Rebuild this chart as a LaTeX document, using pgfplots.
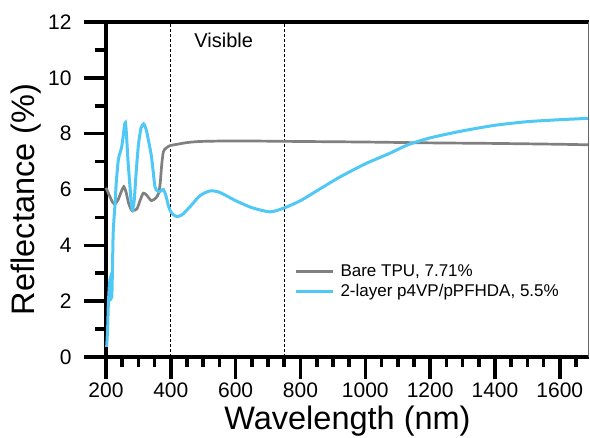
\documentclass[border=0pt]{standalone}
\usepackage{fontspec}
\setmainfont{Liberation Sans}
\usepackage{pgfplots}
\pgfplotsset{compat=1.18}

\definecolor{tpugray}{RGB}{128,128,128}
\definecolor{coatblue}{RGB}{80,200,245}

\begin{document}
\begin{tikzpicture}
\useasboundingbox (-106pt,-81pt) rectangle (484pt,357pt);
\begin{axis}[
    at={(0pt,0pt)}, anchor=south west,
    scale only axis,
    width=483pt, height=335pt,
    xmin=200, xmax=1690, ymin=0, ymax=12,
    clip=false,
    axis x line*=bottom, axis y line*=left,
    x axis line style={line width=3.6pt, black, -},
    y axis line style={line width=3.6pt, black, -},
    tick align=outside,
    major tick length=22pt, minor tick length=10.5pt,
    every tick/.style={line width=3.6pt, black},
    xtick={200,400,...,1600},
    minor xtick={250,300,350,450,500,550,650,700,750,850,900,950,1050,1100,1150,1250,1300,1350,1450,1500,1550,1650},
    ytick={0,2,...,12},
    minor ytick={1,3,...,11},
    ticklabel style={font=\fontsize{21}{24}\selectfont},
    yticklabel style={xshift=-9pt},
    /pgf/number format/assume math mode=true,
    /pgf/number format/1000 sep={},
    xlabel={Wavelength (nm)},
    ylabel={Reflectance (\%)},
    every axis x label/.style={at={([yshift=-73pt]axis description cs:0.5,0)}, anchor=base,
        font=\fontsize{32.5}{36}\selectfont},
    every axis y label/.style={at={([xshift=-71pt,yshift=-10pt]axis description cs:0,0.5)},
        rotate=90, anchor=base, font=\fontsize{32.5}{36}\selectfont},
    legend style={at={(axis cs:781,3.38)}, anchor=north west, draw=none, fill=none,
        font=\fontsize{17}{20}\selectfont, inner sep=0pt, row sep=2pt},
    legend cell align=left,
    legend image code/.code={\draw[#1] (0pt,0pt) -- (37pt,0pt); \path (41pt,0pt);},
]

\addplot[forget plot, black, line width=1.3pt, dash pattern=on 3pt off 2pt] coordinates {(400,0) (400,12)};
\addplot[forget plot, black, line width=1.3pt, dash pattern=on 3pt off 2pt] coordinates {(750,0) (750,12)};

\addplot[tpugray, line width=2.7pt, smooth, tension=0.4] coordinates {
    (200,6.06) (210,5.8) (220,5.55) (228,5.48) (238,5.65) (248,5.95) (255,6.1)
    (262,5.9) (270,5.5) (280,5.25) (295,5.3) (305,5.6) (315,5.87) (325,5.8)
    (340,5.6) (354,5.7) (362,5.85) (367,6.2) (372,6.9) (377,7.35) (385,7.48)
    (397,7.57) (420,7.62) (450,7.68) (490,7.72) (600,7.74) (800,7.72)
    (1000,7.7) (1200,7.67) (1400,7.65) (1600,7.62) (1690,7.6)
};
\addlegendentry{Bare TPU, 7.71\%}

\addplot[coatblue, line width=3pt, smooth, tension=0.4] coordinates {
    (202,0.36) (205,1.0) (207,1.8) (210,2.5) (213,2.8) (216,2.4) (218,2.15)
    (220,3.2) (222,4.4) (225,5.0) (228,5.5) (232,6.3) (238,7.06) (243,7.3)
    (248,7.5) (253,7.9) (257,8.3) (260,8.4) (263,8.0) (268,7.0) (274,6.1)
    (278,5.5) (282,5.27) (287,5.6) (293,6.6) (300,7.6) (308,8.2) (316,8.35)
    (324,8.15) (332,7.7) (340,7.2) (346,6.6) (351,6.1) (358,5.95) (366,5.92)
    (372,5.98) (377,6.0) (383,5.85) (388,5.63) (393,5.4) (397,5.27) (405,5.12)
    (419,5.03) (435,5.1) (459,5.38) (490,5.78) (521,5.95) (550,5.9) (600,5.6)
    (650,5.35) (706,5.2) (750,5.34) (800,5.6) (850,5.95) (922,6.45) (1000,6.92)
    (1076,7.3) (1131,7.6) (1200,7.85) (1300,8.1) (1400,8.3) (1500,8.43)
    (1600,8.5) (1690,8.55)
};
\addlegendentry{2-layer p4VP/pPFHDA, 5.5\%}

\node[font=\fontsize{20}{24}\selectfont] at (axis cs:563,11.35) {Visible};

\draw[line width=3.6pt, black] (rel axis cs:0,1) -- (rel axis cs:1,1);
\draw[line width=1pt, black!60] (rel axis cs:1,0) -- (rel axis cs:1,1);
\end{axis}
\end{tikzpicture}
\end{document}
